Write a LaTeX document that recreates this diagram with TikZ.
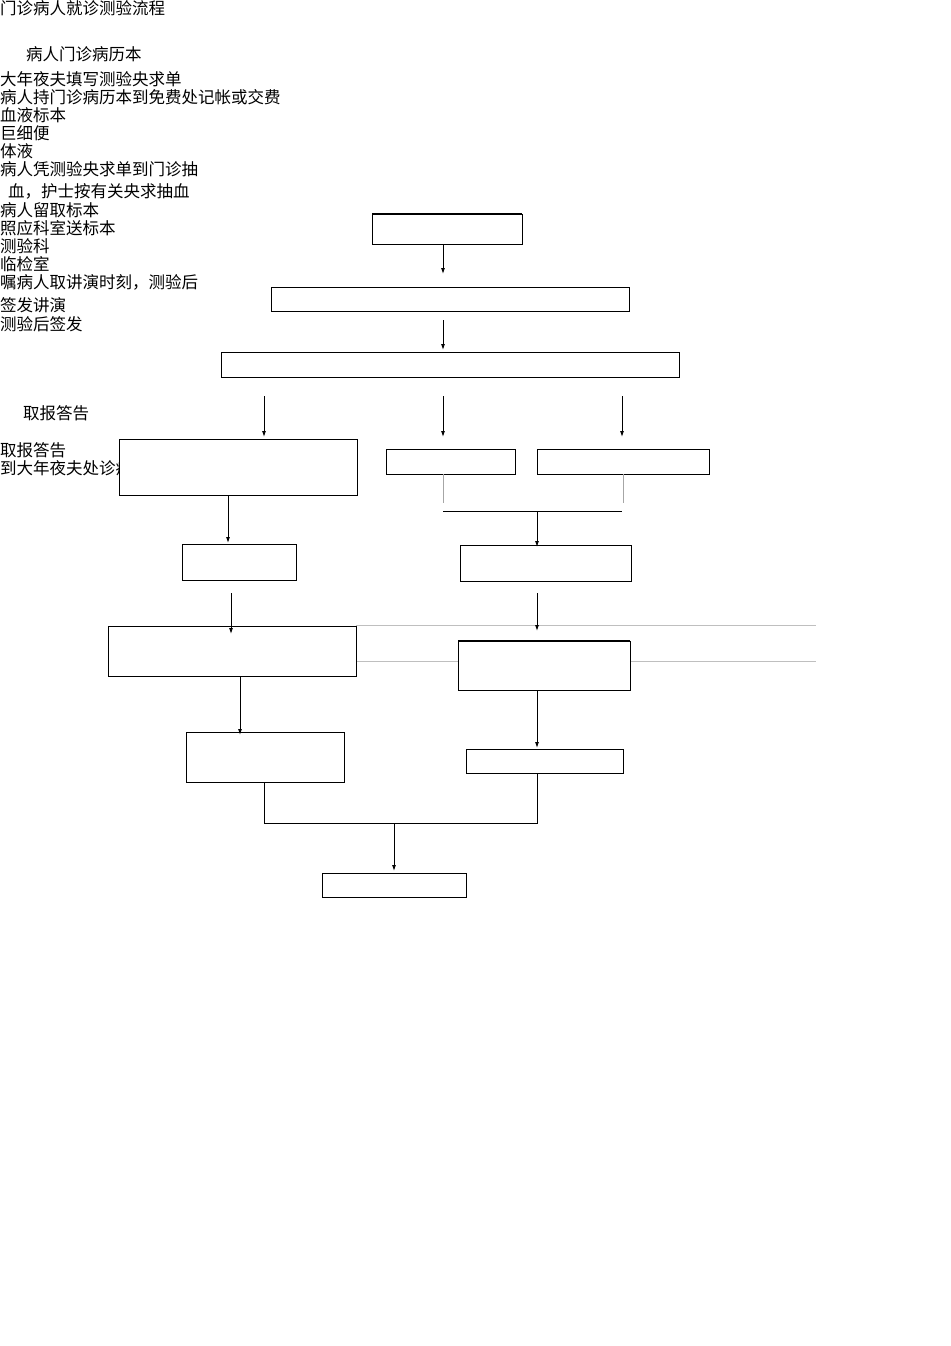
\documentclass[tikz,border=0pt]{standalone}
\usepackage{fontspec}
\usetikzlibrary{arrows.meta}
\newfontfamily\cjk{Noto Sans CJK SC}
\begin{document}
\begin{tikzpicture}[x=1pt,y=-1pt,
  t/.style={anchor=north west,inner sep=0pt,font=\cjk\fontsize{16.5}{17}\selectfont},
  bx/.style={draw,line width=0.9pt},
  ar/.style={-{Latex[length=6pt,width=4pt]},line width=0.9pt},
  gl/.style={draw=black!25,line width=0.6pt}]
\useasboundingbox (0,0) rectangle (950,1346);
\fill[white] (0,0) rectangle (950,1346);
% grey lines
\draw[gl] (356,625) -- (816,625);
\draw[gl] (356,661) -- (816,661);
% texts
\node[t] (t1) at (0,0) {门诊病人就诊测验流程};
\node[t] (t2) at (26,46) {病人门诊病历本};
\node[t] (t3) at (0,71) {大年夜夫填写测验央求单};
\node[t] (t4) at (0,89) {病人持门诊病历本到免费处记帐或交费};
\node[t] (t5) at (0,107) {血液标本};
\node[t] (t6) at (0,125) {巨细便};
\node[t] (t7) at (0,143) {体液};
\node[t] (t8) at (0,161) {病人凭测验央求单到门诊抽};
\node[t] (t9) at (8,183) {血，护士按有关央求抽血};
\node[t] (t10) at (0,202) {病人留取标本};
\node[t] (t11) at (0,220) {照应科室送标本};
\node[t] (t12) at (0,238) {测验科};
\node[t] (t13) at (0,256) {临检室};
\node[t] (t14) at (0,274) {嘱病人取讲演时刻，测验后};
\node[t] (t15) at (0,297) {签发讲演};
\node[t] (t16) at (0,316) {测验后签发};
\node[t] (t17) at (23,405) {取报答告};
\node[t] (t18) at (0,442) {取报答告};
\node[t] (t19) at (0,460) {到大年夜夫处诊疗};
% boxes
\draw[bx] (372,214) rectangle (522,244); \draw[line width=1.6pt] (372,214)--(522,214);
\draw[bx] (271,287) rectangle (629,311);
\draw[bx] (221,352) rectangle (679,377);
\fill[white] (119,439) rectangle (357,495);
\draw[bx] (119,439) rectangle (357,495);
\draw[bx] (386,449) rectangle (515,474);
\draw[bx] (537,449) rectangle (709,474);
\draw[bx] (182,544) rectangle (296,580);
\draw[bx] (460,545) rectangle (631,581);
\fill[white] (108,626) rectangle (356,676);
\draw[bx] (108,626) rectangle (356,676);
\fill[white] (458,641) rectangle (630,690);
\draw[bx] (458,641) rectangle (630,690); \draw[line width=1.6pt] (458,641)--(630,641);
\draw[bx] (186,732) rectangle (344,782);
\draw[bx] (466,749) rectangle (623,773);
\draw[bx] (322,873) rectangle (466,897);
% arrows
\draw[ar] (443,245) -- (443,274);
\draw[ar] (443,320) -- (443,350);
\draw[ar] (264,396) -- (264,437);
\draw[ar] (443,396) -- (443,437);
\draw[ar] (622,396) -- (622,437);
\draw[ar] (228,495) -- (228,543);
\draw[black!35,line width=1pt] (443,474) -- (443,503);
\draw[black!35,line width=1pt] (623,474) -- (623,503);
\draw[line width=0.6pt] (443,511) -- (622,511);
\draw[ar] (537,511) -- (537,547);
\draw[ar] (231,593) -- (231,634);
\draw[ar] (537,593) -- (537,631);
\draw[ar] (240,676) -- (240,735);
\draw[ar] (537,690) -- (537,748);
\draw[line width=0.8pt] (264,782) -- (264,823) -- (537,823) -- (537,773);
\draw[ar] (394,823) -- (394,871);
\end{tikzpicture}
\end{document}
